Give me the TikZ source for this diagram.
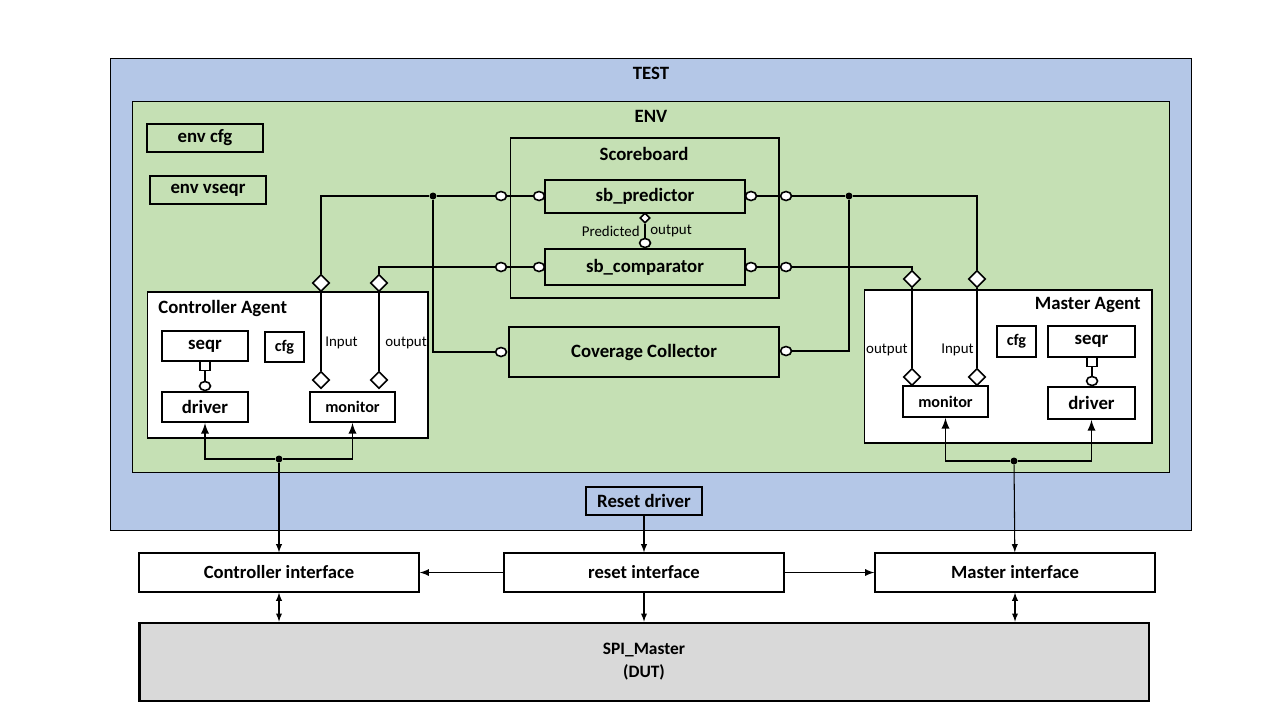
\documentclass[tikz,border=0pt]{standalone}
\usepackage{fontspec}
\setmainfont{Carlito}
\usetikzlibrary{arrows,%
                shapes,positioning}

\definecolor{testblue}{HTML}{B4C7E7}
\definecolor{envgreen}{HTML}{C5E0B4}
\definecolor{dutgray}{HTML}{D9D9D9}

\begin{document}
\begin{tikzpicture}[x=0.02cm,y=-0.02cm,
  frame/.style={draw,line width=0.6pt,inner sep=0pt},
  box/.style={draw,line width=1.1pt,inner sep=0pt,font=\bfseries\fontsize{10.7}{12}\selectfont},
  smallbox/.style={box,font=\bfseries\fontsize{9.2}{11}\selectfont},
  ifbox/.style={draw,line width=0.8pt,fill=white,inner sep=0pt,font=\bfseries\fontsize{10.6}{12}\selectfont},
  title/.style={font=\bfseries\fontsize{10.7}{12}\selectfont,inner sep=0pt},
  lbl/.style={font=\fontsize{8.5}{10}\selectfont,inner sep=0pt},
  wire/.style={line width=1.1pt},
  thin/.style={line width=0.6pt},
  jack/.style={ellipse,draw,line width=0.9pt,fill=white,minimum width=0.22cm,minimum height=0.18cm,inner sep=0pt},
  plug/.style={diamond,draw,line width=0.9pt,fill=white,minimum size=0.34cm,inner sep=0pt},
  stub/.style={rectangle,draw,line width=0.9pt,fill=white,minimum width=0.2cm,minimum height=0.18cm,inner sep=0pt},
  junc/.style={circle,fill=black,minimum size=0.14cm,inner sep=0pt}]
\useasboundingbox (0,0) rectangle (1280,720);
\node[frame,fill=testblue,minimum width=21.64cm,minimum height=9.46cm] (test) at (651,294.5) {};
\node[frame,fill=envgreen,minimum width=20.76cm,minimum height=7.44cm] (env) at (651,287) {};
\node[title] (testlbl) at (651,73) {TEST};
\node[title] (envlbl) at (651,116) {ENV};
\node[box,minimum width=2.32cm,minimum height=0.56cm] (envcfg) at (205,138) {env cfg};
\node[box,minimum width=2.32cm,minimum height=0.56cm] (envseqr) at (208,190) {env vseqr};
\node[frame,minimum width=5.38cm,minimum height=3.2cm] (sb) at (644.5,218) {};
\node[title] (sblbl) at (644,154) {Scoreboard};
\node[box,minimum width=4cm,minimum height=0.66cm] (pred) at (645,196.5) {sb\_predictor};
\node[box,minimum width=4cm,minimum height=0.72cm] (comp) at (645,267) {sb\_comparator};
\node[box,minimum width=5.4cm,minimum height=1cm] (cov) at (644,352) {Coverage Collector};
\node[frame,fill=white,minimum width=5.62cm,minimum height=2.92cm] (cagent) at (287.5,365) {};
\node[title,anchor=west] (cagentlbl) at (158,308) {Controller Agent};
\node[box,minimum width=1.72cm,minimum height=0.6cm] (cseqr) at (205,346) {seqr};
\node[smallbox,minimum width=0.78cm,minimum height=0.6cm] (ccfg) at (284.5,347) {cfg};
\node[box,minimum width=1.72cm,minimum height=0.6cm] (cdrv) at (205,407) {driver};
\node[smallbox,minimum width=1.7cm,minimum height=0.6cm] (cmon) at (352.5,407) {monitor};
\node[frame,fill=white,minimum width=5.76cm,minimum height=3.06cm] (magent) at (1008,366.5) {};
\node[title,anchor=east] (magentlbl) at (1141,305) {Master Agent};
\node[smallbox,minimum width=0.78cm,minimum height=0.62cm] (mcfg) at (1016.5,341.5) {cfg};
\node[box,minimum width=1.74cm,minimum height=0.62cm] (mseqr) at (1091.5,341.5) {seqr};
\node[box,minimum width=1.74cm,minimum height=0.64cm] (mdrv) at (1091.5,403) {driver};
\node[smallbox,minimum width=1.7cm,minimum height=0.62cm] (mmon) at (945.5,401.5) {monitor};
\node[box,fill=testblue,minimum width=2.32cm,minimum height=0.56cm] (rstdrv) at (644,501) {Reset driver};
\node[ifbox,minimum width=5.6cm,minimum height=0.78cm] (ctrlif) at (279,572.5) {Controller interface};
\node[ifbox,minimum width=5.6cm,minimum height=0.78cm] (rstif) at (644,572.5) {reset interface};
\node[ifbox,minimum width=5.6cm,minimum height=0.78cm] (mstif) at (1015,572.5) {Master interface};
\node[draw,line width=1.6pt,fill=dutgray,minimum width=20.2cm,minimum height=1.56cm,align=center,
  font=\bfseries\fontsize{9.9}{13}\selectfont] (dut) at (644,662) {SPI\_Master\\(DUT)};
\node[jack] (sbjL1) at (501,196) {};
\node[jack] (pjL) at (539,196) {};
\node[jack] (pjR) at (751,196) {};
\node[jack] (sbjR1) at (786,196) {};
\node[jack] (sbjL2) at (501,267) {};
\node[jack] (cjL) at (539,267) {};
\node[jack] (cjR) at (751,267) {};
\node[jack] (sbjR2) at (786,267) {};
\node[jack] (covjL) at (501,352) {};
\node[jack] (covjR) at (786,351) {};
\node[plug,minimum size=0.2cm] (pdia) at (645,218) {};
\node[jack] (pjB) at (645,243) {};
\node[lbl,anchor=east] (predlbl) at (640,231) {Predicted};
\node[lbl,anchor=west] (outlbl) at (650,231) {output};
\node[plug] (cinT) at (321,283) {};
\node[plug] (coutT) at (379,283) {};
\node[plug] (cinB) at (321,380) {};
\node[plug] (coutB) at (379,380) {};
\node[lbl,anchor=west] (cinlbl) at (325,343) {Input};
\node[lbl,anchor=west] (coutlbl) at (385,343) {output};
\node[plug] (moutT) at (912,279) {};
\node[plug] (minT) at (977,279) {};
\node[plug] (moutB) at (912,377) {};
\node[plug] (minB) at (977,377) {};
\node[lbl,anchor=east] (moutlbl) at (908,350) {output};
\node[lbl,anchor=east] (minlbl) at (974,350) {Input};
\node[stub] (cstub) at (205,366) {};
\node[jack] (cjack) at (205,386) {};
\node[stub] (mstub) at (1092,362) {};
\node[jack] (mjack) at (1092,381) {};
\node[junc] (jA) at (433,196) {};
\node[junc] (jB) at (849,196) {};
\node[junc] (jC) at (279,459) {};
\node[junc] (jD) at (1014,461) {};
\draw[wire] (cinB) -- (cinT);
\draw[wire] (coutB) -- (coutT);
\draw[wire] (cinT) |- (jA) -- (sbjL1) -- (pjL);
\draw[wire] (jA) |- (covjL);
\draw[wire] (coutT) |- (sbjL2) -- (cjL);
\draw[wire] (pjR) -- (sbjR1) -- (jB) -| (minT);
\draw[wire] (jB) |- (covjR);
\draw[wire] (cjR) -- (sbjR2) -| (moutT);
\draw[wire] (moutB) -- (moutT);
\draw[wire] (minB) -- (minT);
\draw[wire] (pdia) -- (pjB);
\draw[thin] (cstub) -- (cjack);
\draw[thin] (mstub) -- (mjack);
\draw[wire,-latex] (jC) -| (cdrv);
\draw[wire,-latex] (jC) -| (cmon);
\draw[wire,-latex] (jD) -| (mmon);
\draw[wire,-latex] (jD) -| (mdrv);
\draw[thin,-latex] (jC) -- (ctrlif);
\draw[thin,-latex] (jD) -- (mstif);
\draw[thin,-latex] (rstdrv) -- (rstif);
\draw[line width=0.8pt,-latex] (rstif) -- (ctrlif);
\draw[line width=0.8pt,-latex] (rstif) -- (mstif);
\draw[thin,-latex] (rstif) -- (dut);
\draw[thin,latex-latex] (ctrlif) -- (ctrlif |- dut.north);
\draw[thin,latex-latex] (mstif) -- (mstif |- dut.north);
\end{tikzpicture}
\end{document}
